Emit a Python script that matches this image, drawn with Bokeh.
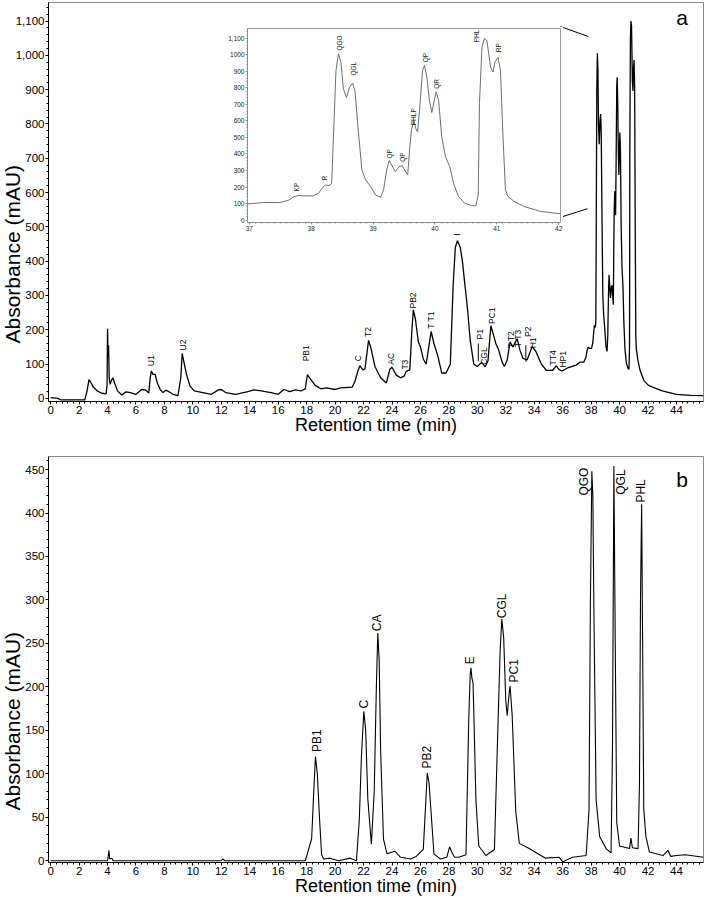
import math
from bokeh.plotting import figure
from bokeh.layouts import column
from bokeh.models import (ColumnDataSource, Range1d, SingleIntervalTicker, FixedTicker,
                          NumeralTickFormatter, Label, Title)
from bokeh.embed import file_html
from bokeh.resources import INLINE
from bokeh.core.properties import value

FONT = "Liberation Sans"

# ---------------- data: chromatogram a ----------------
time_a = [0.0, 0.5, 0.7, 2.4, 2.55, 2.7, 2.85, 3.0, 3.3, 3.6, 3.9, 3.97, 4.0, 4.04, 4.07, 4.12,
          4.18, 4.3, 4.38, 4.5, 4.7, 5.0, 5.3, 5.6, 6.0, 6.4, 6.65, 6.9, 7.0, 7.08, 7.2, 7.35,
          7.5, 7.7, 7.9, 8.1, 8.3, 8.6, 8.95, 9.15, 9.25, 9.4, 9.55, 9.8, 10.1, 10.7, 11.3,
          11.8, 12.0, 12.3, 13.0, 13.8, 14.3, 14.8, 15.5, 16.0, 16.4, 16.8, 17.2, 17.6, 17.9,
          18.05, 18.3, 18.6, 19.0, 19.4, 20.0, 20.4, 21.2, 21.4, 21.6, 21.75, 21.95, 22.1,
          22.35, 22.5, 22.8, 23.2, 23.6, 23.85, 24.0, 24.3, 24.6, 24.85, 25.0, 25.25, 25.4,
          25.5, 25.65, 25.85, 26.0, 26.2, 26.4, 26.55, 26.75, 26.95, 27.2, 27.5, 27.8, 28.1,
          28.3, 28.45, 28.6, 28.8, 28.95, 29.1, 29.3, 29.5, 29.75, 30.0, 30.3, 30.55, 30.75,
          30.95, 31.1, 31.3, 31.5, 31.75, 31.9, 32.1, 32.3, 32.5, 32.8, 33.0, 33.2, 33.5,
          33.85, 34.1, 34.5, 34.85, 35.3, 35.55, 35.75, 35.95, 36.4, 36.95, 37.23, 37.49,
          37.63, 37.71, 37.79, 37.89, 38.03, 38.12, 38.18, 38.23, 38.29, 38.33, 38.36, 38.40,
          38.44, 38.48, 38.52, 38.57, 38.62, 38.67, 38.71, 38.76, 38.82, 38.88, 38.96, 39.04,
          39.12, 39.17, 39.22, 39.26, 39.30, 39.36, 39.42, 39.47, 39.51, 39.56, 39.59, 39.62,
          39.66, 39.69, 39.72, 39.76, 39.80, 39.83, 39.87, 39.91, 39.95, 39.99, 40.02, 40.06,
          40.11, 40.17, 40.24, 40.30, 40.38, 40.48, 40.59, 40.66, 40.70, 40.72, 40.76, 40.80,
          40.84, 40.90, 40.94, 40.97, 41.02, 41.06, 41.10, 41.14, 41.18, 41.28, 41.44, 41.71,
          42.03, 42.5, 43.0, 44.0, 45.0, 45.9]
abs_a = [2, 0, -4, -4, 20, 55, 45, 33, 21, 15, 13, 40, 203, 120, 155, 60,
         41, 55, 60, 45, 22, 10, 19, 17, 12, 26, 25, 16, 60, 80, 70, 70,
         45, 26, 17, 24, 20, 12, 8, 60, 131, 100, 70, 36, 22, 17, 12,
         25, 26, 17, 12, 19, 25, 22, 17, 12, 26, 20, 25, 22, 28,
         69, 55, 38, 28, 31, 26, 31, 33, 50, 80, 95, 83, 86,
         169, 150, 93, 60, 45, 85, 91, 68, 60, 65, 79, 83, 200,
         258, 230, 165, 150, 115, 100, 140, 195, 160, 127, 74, 74, 100,
         330, 440, 460, 440, 400, 341, 265, 169, 100, 93, 105, 92, 110,
         212, 190, 160, 141, 105, 93, 112, 165, 150, 174, 140, 117, 112,
         151, 138, 100, 82, 82, 95, 84, 80, 90, 97, 106, 106,
         119, 139, 149, 146, 146, 163, 193, 213, 207, 223, 504, 905,
         1006, 956, 795, 741, 805, 829, 775, 544, 303, 243, 203, 152,
         137, 183, 303, 360, 333, 293, 323, 330, 303, 273, 424, 544,
         604, 554, 534, 705, 905, 936, 866, 725, 651, 725, 775, 725,
         504, 384, 323, 223, 143, 102, 88, 85, 152, 705, 1046, 1100,
         1086, 926, 896, 956, 986, 905, 504, 183, 143, 113, 82, 52,
         38, 30, 22, 12, 9, 8]

labels_a_text = ["U1", "U2", "PB1", "C", "T2", "AC", "T3", "PB2", "T T1", "E", "P1", "CGL",
                 "PC1", "T T2", "T T3", "P2", "H1", "TT4", "HP1"]
labels_a_time = [7.04, 9.3, 17.95, 21.6, 22.28, 23.93, 24.9, 25.5, 26.75, 28.6, 30.16, 30.47,
                 31.0, 32.35, 32.87, 33.53, 33.88, 35.34, 36.05]
labels_a_abs = [94, 140, 108, 108, 179, 98, 84, 262, 203, 474, 172, 98,
                217, 146, 150, 179, 146, 96, 90]

# leader lines under P1 and P2
leader_time = [30.07, 33.41]
leader_top = [160, 155]
leader_bottom = [108, 107]

# inset labels (same chromatogram, 37-42 min)
labels_in_text = ["KP", "R", "QGO", "QGL", "QP", "QP", "PHLP", "QP", "QR", "PHL", "RP"]
labels_in_time = [37.77, 38.21, 38.45, 38.68, 39.26, 39.48, 39.66, 39.84, 40.03, 40.68, 41.02]
labels_in_abs = [173, 239, 1026, 875, 373, 353, 574, 956, 795, 1076, 1016]

# zoom connector lines
conn_t0 = [35.83, 35.92]
conn_v0 = [1084, 529]
conn_t1 = [37.8, 37.75]
conn_v1 = [1055, 553]

# ---------------- data: chromatogram b ----------------
time_b = [0.0, 4.0, 4.1, 4.15, 4.3, 4.4, 12.0, 12.1, 12.25, 17.9, 18.05, 18.2, 18.35, 18.5,
          18.62, 18.75, 18.9, 19.05, 19.2, 19.65, 20.25, 21.05, 21.5, 21.7, 21.85, 22.02,
          22.15, 22.3, 22.55, 22.75, 22.9, 23.0, 23.1, 23.2, 23.4, 23.65, 24.2, 24.6, 25.3,
          25.7, 26.2, 26.35, 26.48, 26.6, 26.75, 26.95, 27.4, 27.85, 28.05, 28.2, 28.4, 28.7,
          29.2, 29.4, 29.5, 29.55, 29.62, 29.7, 29.9, 30.1, 30.6, 31.2, 31.4, 31.6, 31.72,
          31.85, 32.0, 32.1, 32.25, 32.3, 32.45, 32.7, 32.95, 33.65, 34.25, 34.8, 35.75,
          36.0, 36.7, 37.65, 37.85, 37.95, 38.05, 38.12, 38.2, 38.35, 38.6, 39.05, 39.4,
          39.5, 39.6, 39.7, 39.8, 40.0, 40.5, 40.7, 40.8, 40.9, 41.3, 41.4, 41.47, 41.55,
          41.62, 41.7, 41.85, 42.1, 43.05, 43.4, 43.6, 44.0, 44.6, 45.9]
abs_b = [0, 0, 12, 2, 3, 0, 0, 2, 0, 0, 8, 17, 25, 80,
         120, 100, 50, 7, 2, 3, 0, 3, 0, 47, 120, 172,
         150, 71, 19, 80, 200, 262, 230, 127, 25, 8, 11, 4, 2,
         5, 13, 60, 101, 90, 55, 8, 2, 4, 16, 10, 4, 4,
         7, 165, 215, 222, 210, 204, 70, 17, 6, 13, 127, 241, 278,
         257, 184, 167, 195, 201, 167, 57, 20, 14, 8, 3, 4,
         -1, 4, 6, 58, 300, 448, 420, 279, 70, 28, 14, 9,
         127, 454, 241, 44, 17, 15, 14, 26, 15, 14, 90, 300, 410,
         250, 60, 28, 10, 6, 12, 5, 6, 7, 4]

labels_b_text = ["PB1", "C", "CA", "PB2", "E", "CGL", "PC1", "QGO", "QGL", "PHL"]
labels_b_time = [18.75, 22.05, 22.98, 26.48, 29.5, 31.76, 32.6, 37.53, 40.12, 41.53]
labels_b_abs = [125, 175, 264, 106, 226, 279, 205, 420, 421, 412]

x_ticks_interval = 2
y_ticks_a = list(range(0, 1101, 100))
y_ticks_b = list(range(0, 451, 50))
y_ticks_in = list(range(0, 1101, 100))

X_MIN, X_MAX = -0.15, 45.9
YA_MIN, YA_MAX = -9, 1154
YB_MIN, YB_MAX = -2, 465

Y_TITLE = "Absorbance (mAU)"
X_TITLE = "Retention time (min)"


def style_axes(p, tick_size="11.5px"):
    p.xgrid.visible = False
    p.ygrid.visible = False
    for ax in (p.xaxis[0], p.yaxis[0]):
        ax.axis_line_color = "black"
        ax.axis_line_width = 1
        ax.major_tick_line_color = "black"
        ax.minor_tick_line_color = "black"
        ax.major_tick_out = 3
        ax.major_tick_in = 0
        ax.minor_tick_out = 2
        ax.minor_tick_in = 0
        ax.major_label_text_font = FONT
        ax.major_label_text_font_size = tick_size
        ax.major_label_text_color = "black"
        ax.axis_label_text_font = FONT
        ax.axis_label_text_font_style = "normal"
        ax.axis_label_text_color = "black"


def titles(p, offset_from_bottom, title_standoff):
    p.xaxis.axis_label = X_TITLE
    p.xaxis.axis_label_text_font_size = "18px"
    p.xaxis.axis_label_standoff = -2
    p.xaxis.major_label_standoff = 1
    p.yaxis.major_label_standoff = 1
    p.add_layout(Title(text=Y_TITLE, align="left", vertical_align="bottom",
                       offset=offset_from_bottom, standoff=title_standoff, text_font=FONT,
                       text_font_size="21px", text_font_style="normal",
                       text_color="black"), "left")


# ---------------- panel a ----------------
pa = figure(width=705, height=442, x_range=Range1d(X_MIN, X_MAX), y_range=Range1d(YA_MIN, YA_MAX),
            output_backend="svg", toolbar_location=None,
            min_border_left=47, min_border_right=2, min_border_top=2, min_border_bottom=41)
style_axes(pa)
pa.outline_line_color = "#8a8a8a"
pa.xaxis.ticker = SingleIntervalTicker(interval=x_ticks_interval, num_minor_ticks=5)
pa.yaxis.ticker = FixedTicker(ticks=y_ticks_a, minor_ticks=[v for v in range(0, 1151, 20)])
pa.yaxis.formatter = NumeralTickFormatter(format="0,0")
titles(pa, 58, -22)

pa.line(time_a, abs_a, line_color="black", line_width=1.3)
pa.segment(x0=leader_time, y0=leader_top, x1=leader_time, y1=leader_bottom,
           line_color="black", line_width=1)
pa.segment(x0=conn_t0, y0=conn_v0, x1=conn_t1, y1=conn_v1, line_color="black", line_width=1)
src_la = ColumnDataSource(dict(t=labels_a_time, v=labels_a_abs, txt=labels_a_text))
pa.text(x="t", y="v", text="txt", source=src_la, angle=math.pi / 2, text_align="left",
        text_baseline="middle", text_font=value(FONT), text_font_size="8.5px",
        text_color="black")
pa.add_layout(Label(x=44.4, y=1110, text="a", text_font=FONT, text_font_size="21px",
                    text_align="center", text_baseline="middle", text_color="black"))

# ---------------- panel b ----------------
pb = figure(width=705, height=456, x_range=Range1d(X_MIN, X_MAX), y_range=Range1d(YB_MIN, YB_MAX),
            output_backend="svg", toolbar_location=None,
            min_border_left=47, min_border_right=2, min_border_top=14, min_border_bottom=36)
style_axes(pb)
pb.outline_line_color = "#8a8a8a"
pb.xaxis.ticker = SingleIntervalTicker(interval=x_ticks_interval, num_minor_ticks=5)
pb.yaxis.ticker = FixedTicker(ticks=y_ticks_b, minor_ticks=[v for v in range(0, 461, 10)])
titles(pb, 52, -3)

pb.line(time_b, abs_b, line_color="black", line_width=1.1)
src_lb = ColumnDataSource(dict(t=labels_b_time, v=labels_b_abs, txt=labels_b_text))
pb.text(x="t", y="v", text="txt", source=src_lb, angle=math.pi / 2, text_align="left",
        text_baseline="middle", text_font=value(FONT), text_font_size="12px",
        text_color="black")
pb.add_layout(Label(x=44.4, y=438, text="b", text_font=FONT, text_font_size="21px",
                    text_align="center", text_baseline="middle", text_color="black"))

# ---------------- inset (separate root, placed over panel a) ----------------
pi = figure(width=338, height=208, x_range=Range1d(36.97, 42.03), y_range=Range1d(-15, 1160),
            output_backend="svg", toolbar_location=None,
            min_border_left=20, min_border_right=3, min_border_top=2, min_border_bottom=12,
            styles={"position": "absolute", "left": "225px", "top": "26px", "z-index": "5"})
style_axes(pi, tick_size="6.5px")
pi.outline_line_color = "#9a9a9a"
for ax in (pi.xaxis[0], pi.yaxis[0]):
    ax.axis_line_color = "#8a8a8a"
    ax.major_tick_line_color = "#8a8a8a"
    ax.minor_tick_line_color = "#8a8a8a"
    ax.major_tick_out = 2
    ax.minor_tick_out = 1
    ax.major_label_standoff = 1
    ax.major_label_text_color = "#222222"
pi.xaxis.ticker = SingleIntervalTicker(interval=1, num_minor_ticks=10)
pi.yaxis.ticker = FixedTicker(ticks=y_ticks_in, minor_ticks=[v for v in range(0, 1151, 20)])
pi.yaxis.major_label_overrides = {1100: "1,100"}
pi.line(time_a, abs_a, line_color="#6e6e6e", line_width=1)
src_li = ColumnDataSource(dict(t=labels_in_time, v=labels_in_abs, txt=labels_in_text))
pi.text(x="t", y="v", text="txt", source=src_li, angle=math.pi / 2, text_align="left",
        text_baseline="middle", text_font=value(FONT), text_font_size="6.5px",
        text_color="#222222")

layout = column(pa, pb, spacing=0)

open("out.html", "w").write(file_html([layout, pi], INLINE))
